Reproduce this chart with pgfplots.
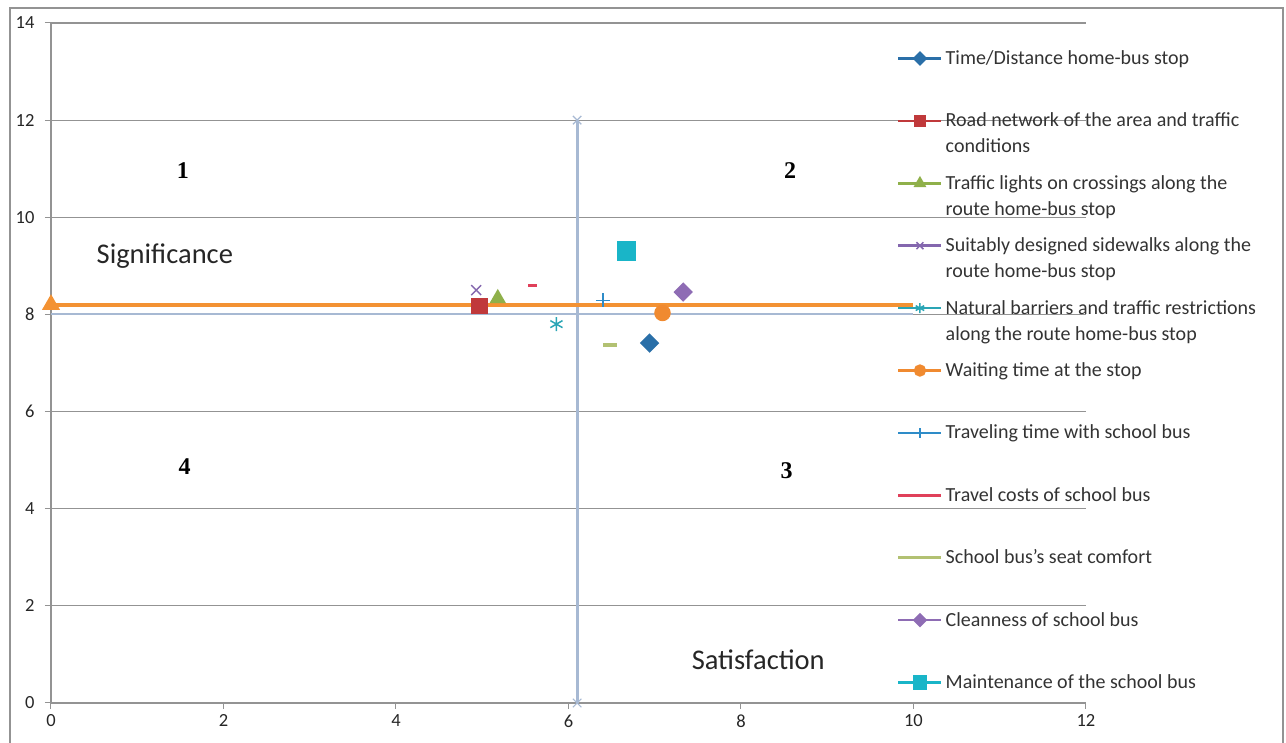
\documentclass[border=0pt]{standalone}
\usepackage{fontspec}
\setmainfont{Carlito}
\newfontfamily\timesfont{Liberation Serif}
\usepackage{pgfplots}
\pgfplotsset{compat=1.18}
\definecolor{cA}{HTML}{2A6FA8}
\definecolor{cB}{HTML}{C0393B}
\definecolor{cC}{HTML}{8FB04A}
\definecolor{cD}{HTML}{8467AE}
\definecolor{cE}{HTML}{2AA5B5}
\definecolor{cF}{HTML}{F08A30}
\definecolor{cG}{HTML}{2E8CC8}
\definecolor{cH}{HTML}{E0405A}
\definecolor{cI}{HTML}{B2C172}
\definecolor{cJ}{HTML}{8E6CB4}
\definecolor{cK}{HTML}{19B5C8}
\definecolor{orangeline}{HTML}{F39233}
\definecolor{crossblue}{HTML}{A7B9D3}
\definecolor{gridgray}{HTML}{939393}
\newcommand{\two}[2]{\vtop{\hbox{#1}\hbox{#2}}}
\begin{document}
\begin{tikzpicture}
\begin{axis}[
  at={(0,0)}, anchor=south west,
  scale only axis, width=1035pt, height=680pt,
  xmin=0, xmax=12, ymin=0, ymax=14,
  xtick={0,2,...,12}, ytick={0,2,...,14},
  axis x line*=bottom, axis y line*=left,
  axis line style={-, gridgray, line width=1.2pt},
  tick pos=left,
  ymajorgrids, grid style={gridgray, line width=1.2pt},
  tick align=outside, major tick length=6pt,
  tick style={gridgray, line width=1pt},
  /pgf/number format/assume math mode=true,
  ticklabel style={font=\fontsize{18.5}{21}\selectfont, text=black!85},
  yticklabel style={xshift=-7pt},
  xticklabel style={yshift=-2pt},
  clip=false,
  legend style={draw=none, fill=none, at={(0.8174,0.9613)}, anchor=north west,
    inner sep=0pt, row sep=0pt, column sep=3pt,
    font=\fontsize{20}{26}\selectfont,
    nodes={inner sep=0pt, text height=15pt, text depth=47.4pt, text=black!80},
    cells={anchor=base west}},
  legend image code/.code={\draw[mark repeat=2,mark phase=2,#1, every mark/.append style={scale=0.7}] plot coordinates {(0pt,6pt)(21.5pt,6pt)(43pt,6pt)};},
]
\addplot[cA, line width=2.5pt, mark=square*, mark size=5.6pt, mark options={rotate=45, solid}] coordinates {(6.94,7.41)};
\addlegendentry{Time/Distance home-bus stop}
\addplot[cB, line width=2.5pt, mark=square*, mark size=7pt, mark options={solid}] coordinates {(4.97,8.17)};
\addlegendentry{\two{Road network of the area and traffic}{conditions}}
\addplot[cC, line width=2.5pt, mark=triangle*, mark size=7pt, mark options={solid}] coordinates {(5.18,8.33)};
\addlegendentry{\two{Traffic lights on crossings along the}{route home-bus stop}}
\addplot[cD, line width=2.5pt, mark=x, mark size=7pt, mark options={solid, line width=1.5pt}] coordinates {(4.93,8.50)};
\addlegendentry{\two{Suitably designed sidewalks along the}{route home-bus stop}}
\addplot[cE, line width=2.5pt, mark=asterisk, mark size=7pt, mark options={solid, line width=1.5pt}] coordinates {(5.86,7.80)};
\addlegendentry{\two{Natural barriers and traffic restrictions}{along the route home-bus stop}}
\addplot[cF, line width=2.5pt, mark=*, mark size=7pt, mark options={solid}] coordinates {(7.09,8.03)};
\addlegendentry{Waiting time at the stop}
\addplot[cG, line width=2.5pt, mark=+, mark size=7pt, mark options={solid, line width=1.5pt}] coordinates {(6.40,8.29)};
\addlegendentry{Traveling time with school bus}
\addplot[cH, line width=2.5pt, mark=-, mark size=4.5pt, mark options={solid, line width=3.5pt}] coordinates {(5.58,8.60)};
\addlegendentry{Travel costs of school bus}
\addplot[cI, line width=2.5pt, mark=-, mark size=7pt, mark options={solid, line width=3.5pt}] coordinates {(6.48,7.37)};
\addlegendentry{School bus’s seat comfort}
\addplot[cJ, line width=2.5pt, mark=square*, mark size=5.6pt, mark options={rotate=45, solid}] coordinates {(7.33,8.46)};
\addlegendentry{Cleanness of school bus}
\addplot[cK, line width=2.5pt, mark=square*, mark size=8.5pt, mark options={solid}] coordinates {(6.67,9.31)};
\addlegendentry{Maintenance of the school bus}
\addplot[forget plot, crossblue, line width=2pt] coordinates {(0,8)(10,8)};
\addplot[forget plot, crossblue, line width=2.8pt, mark=x, mark size=6pt, mark options={line width=1.2pt}] coordinates {(6.1,0)(6.1,12)};
\addplot[forget plot, orangeline, line width=4pt, mark=triangle*, mark size=6.5pt, mark indices={1}] coordinates {(0,8.2)(10,8.2)};
\node[font=\fontsize{28.5}{30}\selectfont, text=black!85] at (axis cs:1.32,9.2) {Significance};
\node[font=\fontsize{28.5}{30}\selectfont, text=black!85] at (axis cs:8.2,0.88) {Satisfaction};
\node[font=\timesfont\bfseries\fontsize{24}{26}\selectfont] at (axis cs:1.53,10.97) {1};
\node[font=\timesfont\bfseries\fontsize{24}{26}\selectfont] at (axis cs:8.57,10.97) {2};
\node[font=\timesfont\bfseries\fontsize{24}{26}\selectfont] at (axis cs:8.53,4.79) {3};
\node[font=\timesfont\bfseries\fontsize{24}{26}\selectfont] at (axis cs:1.55,4.86) {4};
\end{axis}
\draw[gridgray, line width=1.2pt] (-41pt,-60pt) -- (-41pt,695pt) -- (1232pt,695pt) -- (1232pt,-60pt);
\pgfresetboundingbox
\useasboundingbox (-51pt,-40pt) rectangle (1235pt,703pt);
\end{tikzpicture}
\end{document}
